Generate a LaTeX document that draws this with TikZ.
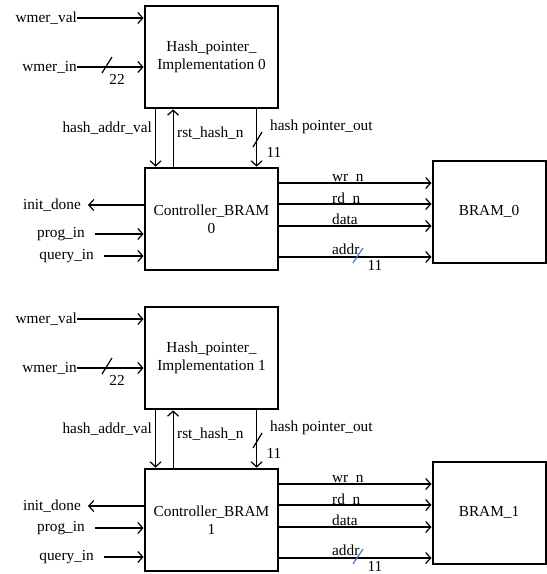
\documentclass[tikz,border=0pt]{standalone}
\usepackage{fontspec}
\setmainfont{Liberation Serif}
\usetikzlibrary{arrows.meta}
\definecolor{slashblue}{RGB}{70,120,200}
\tikzset{
  x=1pt,y=-1pt,
  txt/.style={font=\fontsize{15.3}{18}\selectfont},
  thickbox/.style={draw, line width=2.8pt, minimum width=133pt, minimum height=102pt, inner sep=0pt, align=center, txt},
  brambox/.style={draw, line width=2pt, minimum width=113pt, minimum height=102pt, inner sep=0pt, align=center, txt},
  lbl/.style={inner sep=0pt, txt},
  wire/.style={line width=1.2pt},
  arr/.style={wire, -{Straight Barb[length=5pt,width=11pt,line width=1.2pt]}},
  busslash/.style={line width=1.2pt},
}
\begin{document}
\begin{tikzpicture}
\useasboundingbox (0,0) rectangle (547,574);
\foreach \i/\py in {0/234,1/227}{
\begin{scope}[shift={(0,301*\i)}]
  % blocks
  \node[thickbox] (h\i) at (211.5,57) {Hash\_pointer\_\\Implementation \i};
  \node[thickbox] (c\i) at (211.5,219) {Controller\_BRAM\\\i};
  \node[brambox] (b\i) at (489,211.5) {BRAM\_\i};
  % hash inputs
  \node[lbl,anchor=east] (wv\i) at (77,18) {wmer\_val};
  \draw[arr] (wv\i.east) -- (wv\i.east -| h\i.west);
  \node[lbl,anchor=east] (wi\i) at (77,67) {wmer\_in};
  \draw[arr] (wi\i.east) -- (wi\i.east -| h\i.west);
  \draw[busslash] (102,73) -- (112,57);
  \node[lbl] (n22\i) at (117,79) {22};
  % vertical connections
  \draw[arr] ([xshift=12pt]h\i.south west) -- ([xshift=12pt]c\i.north west);
  \draw[arr] ([xshift=29.5pt]c\i.north west) -- ([xshift=29.5pt]h\i.south west);
  \draw[arr] ([xshift=113pt]h\i.south west) -- ([xshift=113pt]c\i.north west);
  \draw[busslash] (253,147) -- (262,132);
  \node[lbl] (n11a\i) at (274,152) {11};
  \node[lbl,anchor=east] (hav\i) at (152,128) {hash\_addr\_val};
  \node[lbl,anchor=west] (rhn\i) at (177,133) {rst\_hash\_n};
  \node[lbl,anchor=west] (hpo\i) at (270,127) {hash pointer\_out};
  % controller left side
  \node[lbl,anchor=east] (id\i) at (81,205) {init\_done};
  \draw[arr] (c\i.west |- id\i.east) -- ([xshift=7pt]id\i.east);
  \node[lbl,anchor=east] (pi\i) at (85,\py) {prog\_in};
  \draw[arr,shorten <=10pt] (pi\i.east) -- (pi\i.east -| c\i.west);
  \node[lbl,anchor=east] (qi\i) at (94,256) {query\_in};
  \draw[arr,shorten <=10pt] (qi\i.east) -- (qi\i.east -| c\i.west);
  % controller to BRAM
  \coordinate (ywr\i) at (300,183);
  \coordinate (yrd\i) at (300,204);
  \coordinate (yda\i) at (300,226);
  \coordinate (yad\i) at (300,257);
  \draw[arr] (c\i.east |- ywr\i) -- (b\i.west |- ywr\i);
  \draw[arr] (c\i.east |- yrd\i) -- (b\i.west |- yrd\i);
  \draw[arr] (c\i.east |- yda\i) -- (b\i.west |- yda\i);
  \draw[arr] (c\i.east |- yad\i) -- (b\i.west |- yad\i);
  \node[lbl,anchor=base west] (lwr\i) at (332,181) {wr\_n};
  \node[lbl,anchor=base west] (lrd\i) at (332,203) {rd\_n};
  \node[lbl,anchor=base west] (lda\i) at (332,224) {data};
  \node[lbl,anchor=base west] (lad\i) at (332,254) {addr};
  \draw[busslash,slashblue] (353,263) -- (363,248);
  \node[lbl] (n11b\i) at (375,265) {11};
\end{scope}
}
\end{tikzpicture}
\end{document}
